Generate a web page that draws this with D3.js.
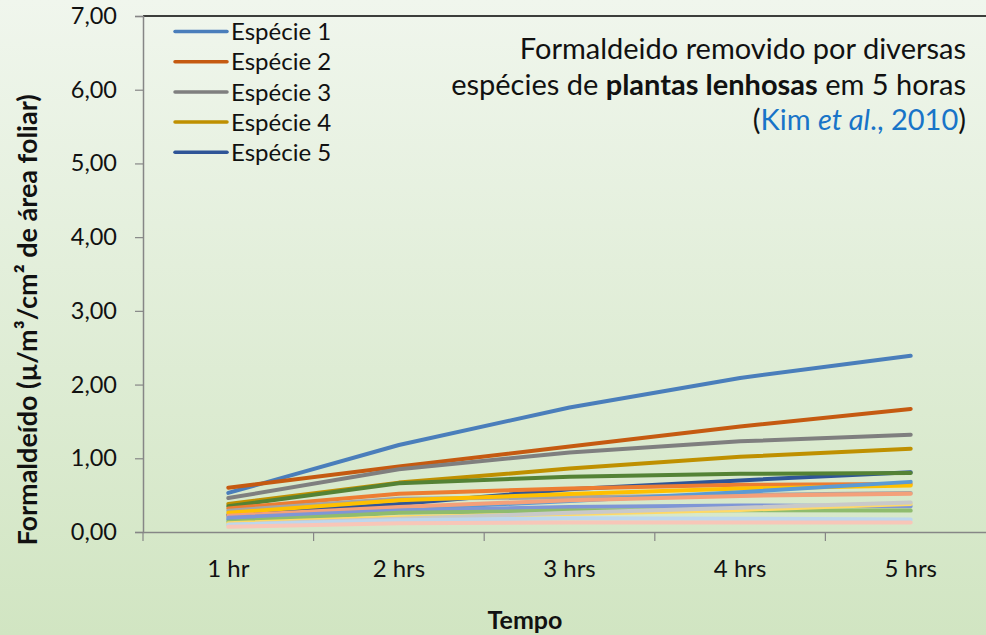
<!DOCTYPE html>
<html>
<head>
<meta charset="utf-8">
<script src="https://cdn.jsdelivr.net/npm/d3@7"></script>
<style>
  html, body { margin: 0; padding: 0; }
  body { width: 986px; height: 635px; overflow: hidden; }
  svg { display: block; font-family: Lato, "Open Sans", sans-serif; }
</style>
</head>
<body>
<div id="chart"></div>
<script>
// categorias do eixo x
const tempos = ["1 hr", "2 hrs", "3 hrs", "4 hrs", "5 hrs"];
const yTicks = [0, 1, 2, 3, 4, 5, 6, 7];

// valores (µ/m³/cm² de área foliar)
const especie1 = [0.53, 1.18, 1.69, 2.09, 2.39];
const especie2 = [0.60, 0.89, 1.16, 1.43, 1.67];
const especie3 = [0.46, 0.85, 1.08, 1.23, 1.32];
const especie4 = [0.38, 0.67, 0.86, 1.02, 1.13];
const especie5 = [0.23, 0.38, 0.58, 0.70, 0.81];
const especie6 = [0.35, 0.66, 0.75, 0.79, 0.80];
const especie7 = [0.32, 0.52, 0.59, 0.64, 0.65];
const especie8 = [0.29, 0.45, 0.47, 0.50, 0.53];
const especie9 = [0.26, 0.43, 0.515, 0.59, 0.63];
const especie10 = [0.17, 0.31, 0.42, 0.54, 0.68];
const especie11 = [0.22, 0.34, 0.43, 0.49, 0.52];
const especie12 = [0.195, 0.29, 0.34, 0.36, 0.35];
const especie13 = [0.14, 0.26, 0.29, 0.295, 0.29];
const especie14 = [0.12, 0.20, 0.245, 0.30, 0.38];
const especie15 = [0.10, 0.18, 0.26, 0.33, 0.40];
const especie16 = [0.10, 0.16, 0.185, 0.18, 0.17];
const especie17 = [0.07, 0.12, 0.13, 0.13, 0.13];

const series = [especie1, especie2, especie3, especie4, especie5, especie6, especie7,
  especie8, especie9, especie10, especie11, especie12, especie13, especie14,
  especie15, especie16, especie17];
const nomes = series.map((s, i) => "Espécie " + (i + 1));

// cores (estilo)
const cores = ["#4a7ebb", "#c55a11", "#7f7f7f", "#bf9000", "#2f5597", "#548235", "#ed7d31",
  "#a5a5a5", "#ffc000", "#5b9bd5", "#f4a07a", "#7f96d6", "#8fbc6e", "#ffd966",
  "#c9c9c9", "#bdd7ee", "#f8c6b8"];

const config = {width: 986, height: 635, top: 16, left: 143, bottom: 532, right: 996};

const svg = d3.select("#chart").append("svg")
    .attr("width", config.width)
    .attr("height", config.height);

// fundo em degrade
const defs = svg.append("defs");
const grad = defs.append("linearGradient")
    .attr("id", "bg").attr("x1", 0).attr("y1", 0).attr("x2", 0).attr("y2", 1);
grad.append("stop").attr("offset", "0%").attr("stop-color", "#f0f6ed");
grad.append("stop").attr("offset", "100%").attr("stop-color", "#d1e5c2");
svg.append("rect").attr("width", config.width).attr("height", config.height).attr("fill", "url(#bg)");

const x = d3.scaleBand().domain(tempos).range([config.left, config.right]);
const y = d3.scaleLinear().domain([0, 7]).range([config.bottom, config.top]);

// borda superior
svg.append("line")
    .attr("x1", config.left).attr("x2", config.width)
    .attr("y1", config.top).attr("y2", config.top)
    .attr("stroke", "#000").attr("stroke-width", 1.3);

// eixo y
const yAxis = svg.append("g")
    .attr("transform", `translate(${config.left},0)`)
    .call(d3.axisLeft(y).tickValues(yTicks).tickSize(8).tickPadding(18)
        .tickFormat(d => d3.format(".2f")(d).replace(".", ",")));
yAxis.select(".domain").attr("stroke", "#868686").attr("stroke-width", 1.5);
yAxis.selectAll(".tick line").attr("stroke", "#868686").attr("stroke-width", 1.2);
yAxis.selectAll("text").attr("font-size", 23.5).attr("fill", "#111").attr("font-family", "Lato");

// eixo x (marcas entre categorias)
const xAxis = svg.append("g")
    .attr("transform", `translate(0,${config.bottom})`)
    .call(d3.axisBottom(x).tickSize(0).tickPadding(28));
xAxis.select(".domain").attr("stroke", "#868686").attr("stroke-width", 1.5);
xAxis.selectAll("text").attr("font-size", 24).attr("fill", "#111").attr("font-family", "Lato");
const bordas = tempos.map(t => x(t)).concat([config.right]);
xAxis.selectAll(".sep").data(bordas).join("line")
    .attr("class", "sep")
    .attr("x1", d => d).attr("x2", d => d)
    .attr("y1", 0).attr("y2", 9)
    .attr("stroke", "#868686").attr("stroke-width", 1.2);

// linhas
const line = d3.line()
    .x((d, i) => x(tempos[i]) + x.bandwidth() / 2)
    .y(d => y(d));
svg.append("g")
    .selectAll("path")
    .data(series)
    .join("path")
    .attr("d", line)
    .attr("fill", "none")
    .attr("stroke", (d, i) => cores[i])
    .attr("stroke-width", 4)
    .attr("stroke-linecap", "round")
    .attr("stroke-linejoin", "round");

// legenda (apenas as 5 primeiras especies)
const legend = svg.append("g");
const leg = legend.selectAll("g")
    .data(nomes.slice(0, 5))
    .join("g")
    .attr("transform", (d, i) => `translate(175,${31.5 + i * 30.2})`);
leg.append("line")
    .attr("x1", 0).attr("x2", 52)
    .attr("stroke", (d, i) => cores[i])
    .attr("stroke-width", 3.5)
    .attr("stroke-linecap", "round");
leg.append("text")
    .attr("x", 56).attr("dy", "0.36em")
    .attr("font-size", 24)
    .attr("fill", "#111")
    .text(d => d);

// titulo
const titulo = svg.append("g").attr("font-size", 29).attr("fill", "#111").attr("text-anchor", "end");
titulo.append("text").attr("x", 966).attr("y", 58.5).text("Formaldeido removido por diversas");
const t2 = titulo.append("text").attr("x", 966).attr("y", 94.5);
t2.append("tspan").text("espécies de ");
t2.append("tspan").attr("font-weight", "bold").text("plantas lenhosas");
t2.append("tspan").text(" em 5 horas");
const t3 = titulo.append("text").attr("x", 966).attr("y", 130);
t3.append("tspan").text("(");
t3.append("tspan").attr("fill", "#1874c8").text("Kim ");
t3.append("tspan").attr("fill", "#1874c8").attr("font-style", "italic").text("et al");
t3.append("tspan").attr("fill", "#1874c8").text("., 2010");
t3.append("tspan").text(")");

// titulos dos eixos
svg.append("text")
    .attr("x", 525).attr("y", 629)
    .attr("text-anchor", "middle")
    .attr("font-size", 25).attr("font-weight", "bold").attr("fill", "#111")
    .text("Tempo");
svg.append("text")
    .attr("transform", "translate(37,320) rotate(-90)")
    .attr("text-anchor", "middle")
    .attr("font-size", 27).attr("font-weight", "bold").attr("fill", "#111")
    .text("Formaldeído (µ/m³/cm² de área foliar)");
</script>
</body>
</html>
